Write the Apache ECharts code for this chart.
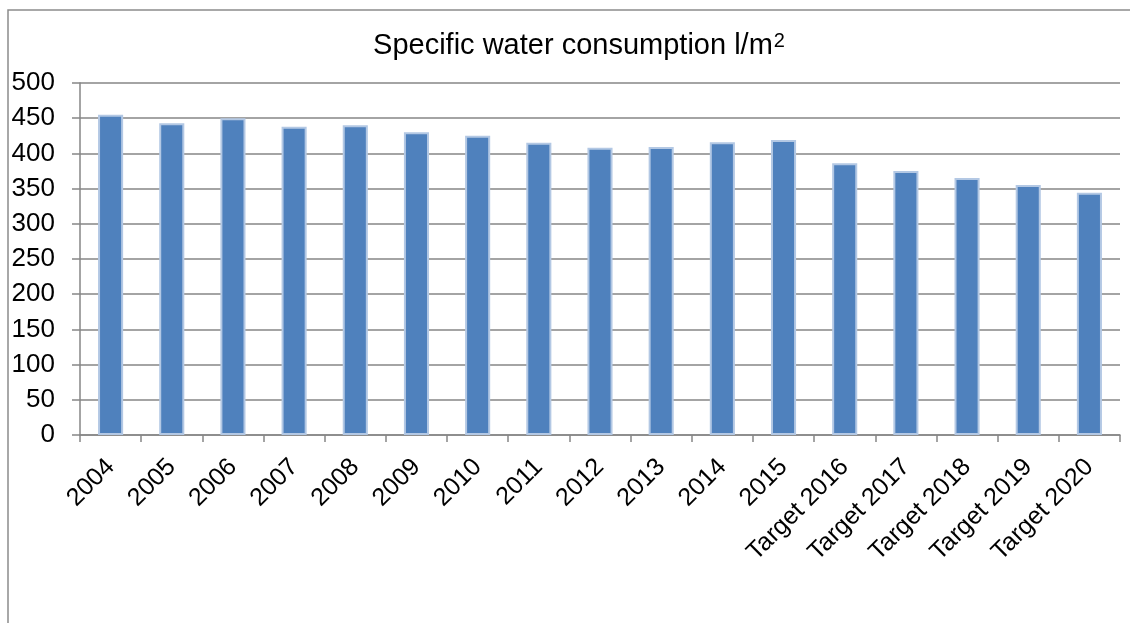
<!DOCTYPE html>
<html>
<head>
<meta charset="utf-8">
<script src="https://cdn.jsdelivr.net/npm/echarts@6/dist/echarts.min.js"></script>
<style>
  html, body { margin: 0; padding: 0; background: #fff; }
  #chart { width: 1130px; height: 623px; }
</style>
</head>
<body>
<div id="chart"></div>
<script>
// Specific water consumption (litres per m²), actual years then targets
const categories = ['2004', '2005', '2006', '2007', '2008', '2009', '2010', '2011', '2012',
  '2013', '2014', '2015', 'Target 2016', 'Target 2017', 'Target 2018', 'Target 2019', 'Target 2020'];
const consumption = [455, 443, 450, 438, 440, 430, 425, 415, 408, 409, 416, 419, 386, 375, 365, 355, 344];
const yTicks = { min: 0, max: 500, interval: 50 };

const FONT = '"Liberation Sans", Arial, sans-serif';
const GREY = '#868686';

const chart = echarts.init(document.getElementById('chart'), null, { renderer: 'canvas' });
chart.setOption({
  animation: false,
  backgroundColor: '#ffffff',
  graphic: [
    {
      type: 'rect',
      x: 8, y: 10,
      shape: { x: 0, y: 0, width: 1200, height: 700 },
      style: { fill: 'none', stroke: '#8c8c8c', lineWidth: 1.5 },
      silent: true, z: -10
    },
    {
      type: 'text',
      x: 579, y: 31,
      style: {
        text: '{a|Specific water consumption l/m}{s|2}',
        align: 'center',
        font: '29px ' + FONT,
        fill: '#000',
        rich: {
          a: { fontSize: 29, fontFamily: FONT, color: '#000' },
          s: { fontSize: 20, fontFamily: FONT, color: '#000', padding: [0, 0, 10, 1] }
        }
      }
    }
  ],
  grid: { left: 80, right: 10, top: 83, bottom: 188, containLabel: false },
  xAxis: {
    type: 'category',
    data: categories,
    boundaryGap: true,
    axisLine: { show: true, lineStyle: { color: GREY, width: 1.5 } },
    axisTick: { show: true, length: 7, alignWithLabel: false, interval: 0, lineStyle: { color: GREY, width: 1.5 } },
    axisLabel: { interval: 0, rotate: 45, margin: 28, fontSize: 25, fontFamily: FONT, color: '#000' },
    splitLine: { show: false }
  },
  yAxis: {
    type: 'value',
    min: yTicks.min, max: yTicks.max, interval: yTicks.interval,
    axisLine: { show: true, lineStyle: { color: GREY, width: 1.5 } },
    axisTick: { show: true, length: 8, lineStyle: { color: GREY, width: 1.5 } },
    axisLabel: { margin: 25, fontSize: 26, fontFamily: FONT, color: '#000' },
    splitLine: { show: true, lineStyle: { color: GREY, width: 1.5 } }
  },
  series: [{
    type: 'bar',
    data: consumption,
    barWidth: '41%',
    itemStyle: { color: '#4F81BD', borderColor: '#B3C8E4', borderWidth: 2 },
    z: 3
  }]
});
</script>
</body>
</html>
